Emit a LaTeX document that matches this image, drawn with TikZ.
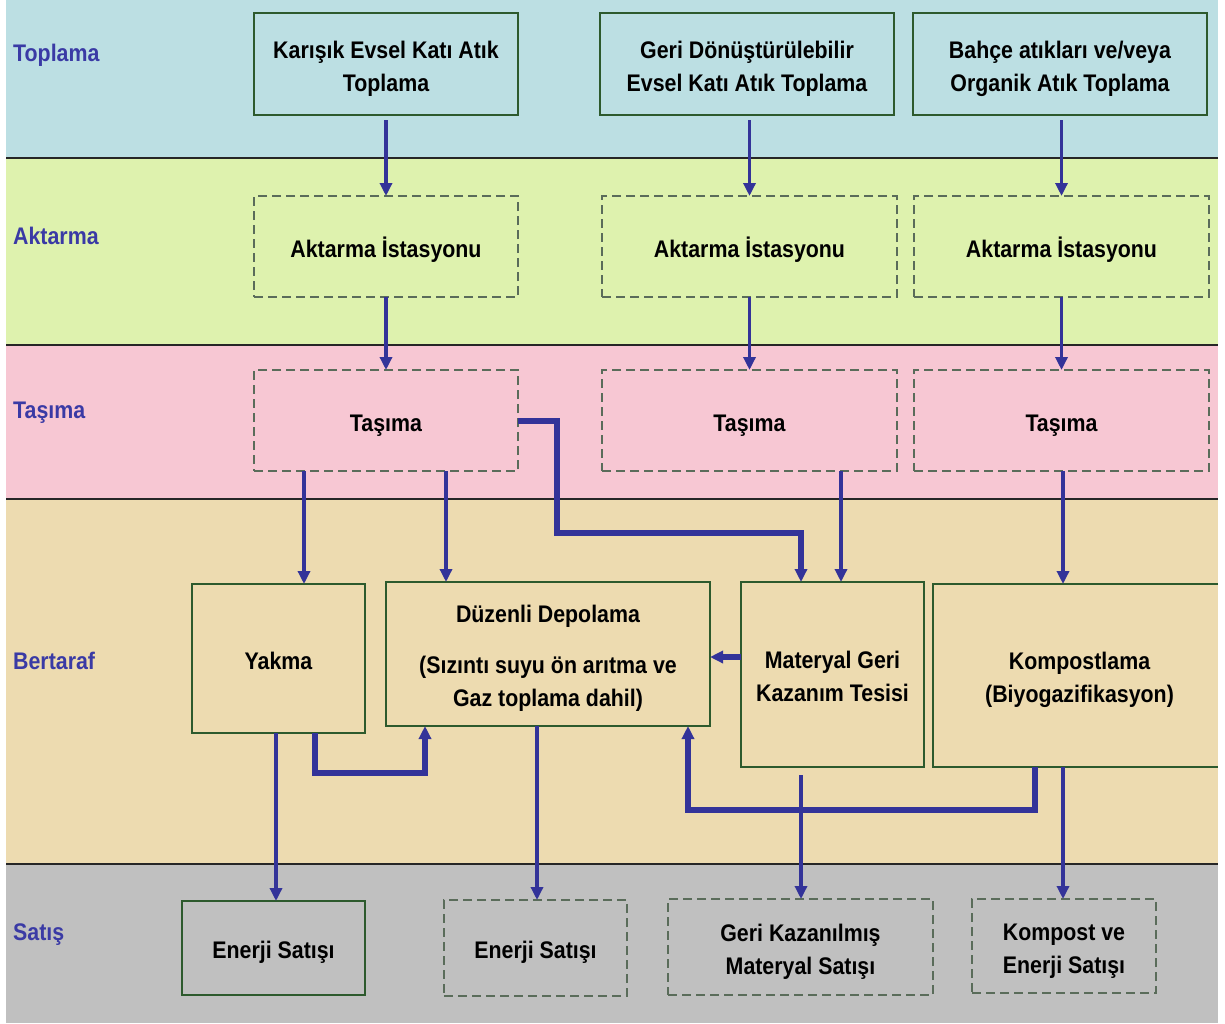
\documentclass[tikz,border=0pt]{standalone}
\usepackage{fontspec}
\setmainfont{Liberation Sans}[FakeStretch=0.89]
\usetikzlibrary{arrows.meta}
\definecolor{bandA}{RGB}{188,223,227}
\definecolor{bandB}{RGB}{222,242,174}
\definecolor{bandC}{RGB}{247,199,211}
\definecolor{bandD}{RGB}{237,219,176}
\definecolor{bandE}{RGB}{192,192,192}
\definecolor{boxgreen}{RGB}{45,90,45}
\definecolor{dashgray}{RGB}{90,108,90}
\definecolor{arrblue}{RGB}{51,51,153}
\definecolor{lblblue}{RGB}{58,58,165}
\newcommand\bxf{\fontsize{24}{33}\selectfont\bfseries}
\newcommand\tstr{\rule{0pt}{28pt}}
\newcommand\bstr{\rule[-7pt]{0pt}{7pt}}
\begin{document}
\begin{tikzpicture}[x=1pt,y=-1pt,
  sbox/.style={draw=boxgreen, line width=1.6pt, align=center, inner sep=0pt, outer sep=0pt, font=\bxf},
  dbox/.style={sbox, draw=dashgray, dash pattern=on 9pt off 5pt},
  arr/.style={draw=arrblue, line width=3.5pt, -{Triangle[length=13pt,width=12pt]}},
  thk/.style={arr, line width=6pt},
  lbl/.style={text=lblblue, font=\bxf, anchor=west, inner sep=0pt, text height=17pt, text depth=0pt},
  sep/.style={draw=black!85, line width=1.5pt}]
\useasboundingbox (0,0) rectangle (1225,1023);
\fill[white] (0,0) rectangle (1225,1023);
% bands
\fill[bandA] (6,0) rectangle (1218,158);
\fill[bandB] (6,158) rectangle (1218,345);
\fill[bandC] (6,345) rectangle (1218,499);
\fill[bandD] (6,499) rectangle (1218,864);
\fill[bandE] (6,864) rectangle (1218,1023);
\draw[sep] (6,158) -- (1218,158);
\draw[sep] (6,345) -- (1218,345);
\draw[sep] (6,499) -- (1218,499);
\draw[sep] (6,864) -- (1218,864);
\coordinate (redge) at (1218,0);
% row labels
\node[lbl] (l1) at (13,53) {Toplama};
\node[lbl] (l2) at (13,236) {Aktarma};
\node[lbl] (l3) at (13,410) {Taşıma};
\node[lbl] (l4) at (13,661) {Bertaraf};
\node[lbl] (l5) at (13,932) {Satış};
% Toplama
\node[sbox, minimum width=264pt, minimum height=102pt] (b1) at (386,64) {\tstr Karışık Evsel Katı Atık\\Toplama\bstr};
\node[sbox, minimum width=294pt, minimum height=102pt] (b2) at (747,64) {\tstr Geri Dönüştürülebilir\\Evsel Katı Atık Toplama\bstr};
\node[sbox, minimum width=294pt, minimum height=102pt] (b3) at (1060,64) {\tstr Bahçe atıkları ve/veya\\Organik Atık Toplama\bstr};
% Aktarma
\node[dbox, minimum width=264pt, minimum height=101pt] (a1) at (386,246.5) {\tstr Aktarma İstasyonu\bstr};
\node[dbox, minimum width=295pt, minimum height=101pt] (a2) at (749.5,246.5) {\tstr Aktarma İstasyonu\bstr};
\node[dbox, minimum width=295pt, minimum height=101pt] (a3) at (1061.5,246.5) {\tstr Aktarma İstasyonu\bstr};
% Tasima
\node[dbox, minimum width=264pt, minimum height=101pt] (t1) at (386,420.5) {\tstr Taşıma\bstr};
\node[dbox, minimum width=295pt, minimum height=101pt] (t2) at (749.5,420.5) {\tstr Taşıma\bstr};
\node[dbox, minimum width=295pt, minimum height=101pt] (t3) at (1061.5,420.5) {\tstr Taşıma\bstr};
% Bertaraf
\node[sbox, minimum width=173pt, minimum height=149pt] (yak) at (278.5,658.5) {\tstr Yakma\bstr};
\node[sbox, minimum width=324pt, minimum height=144pt] (dep) at (548,654) {\tstr Düzenli Depolama\\[18pt](Sızıntı suyu ön arıtma ve\\Gaz toplama dahil)\bstr};
\node[sbox, minimum width=183pt, minimum height=185pt] (mat) at (832.5,674.5) {\tstr Materyal Geri\\Kazanım Tesisi\bstr};
\node[sbox, draw=none, minimum width=293pt, minimum height=183pt] (kom) at (1079.5,675.5) {\tstr Kompostlama\\(Biyogazifikasyon)\bstr};
\draw[boxgreen, line width=1.6pt] (kom.north west -| redge) -- (kom.north west) -- (kom.south west) -- (kom.south west -| redge);
% Satis
\node[sbox, minimum width=183pt, minimum height=94pt] (e1) at (273.5,948) {\tstr Enerji Satışı\bstr};
\node[dbox, minimum width=183pt, minimum height=96pt] (e2) at (535.5,948) {\tstr Enerji Satışı\bstr};
\node[dbox, minimum width=265pt, minimum height=96pt] (gk) at (800.5,947) {\tstr Geri Kazanılmış\\Materyal Satışı\bstr};
\node[dbox, minimum width=184pt, minimum height=94pt] (ke) at (1064,946) {\tstr Kompost ve\\Enerji Satışı\bstr};
% arrows top
\draw[arr, shorten <=5pt] (a1.north |- b1.south) -- (a1.north);
\draw[arr, shorten <=5pt] (a2.north |- b2.south) -- (a2.north);
\draw[arr, shorten <=5pt] (a3.north |- b3.south) -- (a3.north);
\draw[arr] (a1.south) -- (t1.north);
\draw[arr] (a2.south) -- (t2.north);
\draw[arr] (a3.south) -- (t3.north);
% tasima -> bertaraf
\draw[arr] ([xshift=-82pt]t1.south) -- ([xshift=-82pt]t1.south |- yak.north);
\draw[arr] ([xshift=60pt]t1.south) -- ([xshift=60pt]t1.south |- dep.north);
\coordinate (tk) at (557,533);
\draw[thk] (t1.east) -| (tk) -| ([xshift=-31.5pt]mat.north);
\draw[arr] ([xshift=91.5pt]t2.south) -- ([xshift=91.5pt]t2.south |- mat.north);
\draw[arr] ([xshift=1.5pt]t3.south) -- ([xshift=1.5pt]t3.south |- kom.north);
% within bertaraf
\draw[thk] ([yshift=17.5pt]mat.west) -- ([yshift=17.5pt]mat.west -| dep.east);
\draw[thk] ([xshift=36.5pt]yak.south) -- ++(0,40) -| ([xshift=-123pt]dep.south);
\draw[thk] ([xshift=-44.5pt]kom.south) -- ++(0,43) -| ([xshift=140pt]dep.south);
% bertaraf -> satis
\draw[arr] ([xshift=-2.5pt]yak.south) -- ([xshift=-2.5pt]yak.south |- e1.north);
\draw[arr] ([xshift=-11pt]dep.south) -- ([xshift=-11pt]dep.south |- e2.north);
\draw[arr, shorten <=8pt] ([xshift=-31.5pt]mat.south) -- ([xshift=-31.5pt]mat.south |- gk.north);
\draw[arr] ([xshift=-16.5pt]kom.south) -- ([xshift=-16.5pt]kom.south |- ke.north);
\end{tikzpicture}
\end{document}
